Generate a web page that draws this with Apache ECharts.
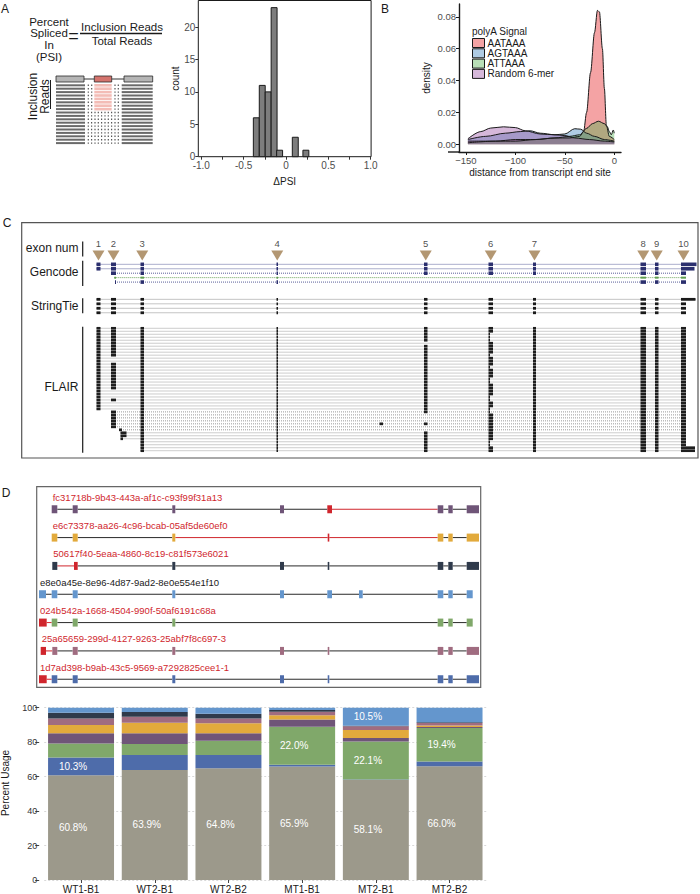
<!DOCTYPE html>
<html>
<head>
<meta charset="utf-8">
<title>Isoform figure</title>
<script src="https://cdn.jsdelivr.net/npm/echarts@6.0.0/dist/echarts.min.js"></script>
<style>
html,body{margin:0;padding:0;background:#ffffff;}
#chart{width:700px;height:894px;}
</style>
</head>
<body>
<div id="chart"></div>
<script>
// ================= DATA =================
// ---- Panel A: PSI schematic (schematic units) ----
const schemExonSpans = [[0, 28], [38.3, 55.7], [68, 96.7]];
const schemExonKinds = ['const', 'cassette', 'const'];
const schemExonRow = -1.85;
const schemReadLeft = [0, 29];
const schemReadRight = [65.7, 96.7];
const schemInclusionRows = 8;
const schemExclusionRows = 10;
const schemInclDots = [32.3, 35.7, 59, 62.3];
const schemExclDots = [32.3, 35.6, 39, 42.3, 45.6, 49, 52.3, 55.6, 59, 62.3];

// ---- Panel A: dPSI histogram ----
const dpsiBinCenters = [-0.35, -0.28, -0.21, -0.14, -0.075, 0.11, 0.235];
const dpsiBinCounts  = [6, 11, 10, 23, 1, 3, 1];
const dpsiBinWidth = 0.07;
const dpsiTickValues  = [-1, -0.75, -0.5, -0.25, 0, 0.25, 0.5, 0.75, 1];
const dpsiLabelValues = [-1, -0.5, 0, 0.5, 1];
const countTicks = [0, 5, 10, 15, 20];

// ---- Panel B: polyA signal density ----
const polyASignals = ['AATAAA', 'AGTAAA', 'ATTAAA', 'Random 6-mer'];
const densX_AATAAA = [-148, -120, -100, -80, -60, -45, -35, -31, -28, -24, -20, -17, -15, -12, -10, -8, -5, 0];
const densY_AATAAA = [0.002, 0.002, 0.003, 0.003, 0.004, 0.004, 0.005, 0.008, 0.02, 0.045, 0.07, 0.084, 0.083, 0.06, 0.035, 0.012, 0.005, 0.003];
const densX_AGTAAA = [-148, -130, -110, -95, -85, -75, -60, -50, -40, -34, -28, -20, -10, 0];
const densY_AGTAAA = [0.003, 0.005, 0.007, 0.008, 0.0085, 0.007, 0.006, 0.0065, 0.0098, 0.0095, 0.007, 0.005, 0.003, 0.002];
const densX_ATTAAA = [-148, -120, -100, -80, -60, -45, -35, -28, -22, -16, -10, -7, -5, -3, -1, 0];
const densY_ATTAAA = [0.001, 0.002, 0.002, 0.003, 0.004, 0.005, 0.006, 0.01, 0.013, 0.0145, 0.013, 0.011, 0.008, 0.006, 0.009, 0.007];
const densX_Random = [-148, -135, -125, -112, -100, -90, -75, -60, -50, -40, -25, -10, 0];
const densY_Random = [0.0035, 0.008, 0.0102, 0.011, 0.0105, 0.0085, 0.0065, 0.006, 0.0055, 0.004, 0.003, 0.002, 0.0015];
const distTicks = [-150, -100, -50, 0];
const densTicks = [0, 0.02, 0.04, 0.06, 0.08];

// ---- Panel C: gene model tracks (kb) ----
const exonNums    = ['1', '2', '3', '4', '5', '6', '7', '8', '9', '10'];
const exonStartKb = [0.65, 2.1, 5.05, 18.65, 33.4, 39.85, 44.3, 55.05, 56.5, 59.1];
const exonEndKb   = [1.05, 2.6, 5.4, 18.8, 33.75, 40.3, 44.6, 55.6, 56.85, 59.6];

const gencodeTx      = [[1,2,3,4,5,6,7,8,9,10], [1,2,3,4,5,6,7,8,9,10], [2,3,4,5,6,7,8,9,10], [2,3,4,8,9,10], [2,3,4,8,9,10]];
const gencodeTxStart = [0.65, 0.65, 2.1, 2.43, 2.5];
const gencodeTxEnd   = [60.65, 60.45, 59.6, 59.6, 59.6];
const gencodeNoncoding = [false, false, false, true, false];

const stringtieTx      = [[1,2,3,4,5,6,7,8,9,10], [1,2,3,4,5,6,7,8,9,10], [1,2,3,4,5,6,7,8,9,10], [1,2,3,4,5,6,7,8,9,10]];
const stringtieTxStart = [0.65, 0.65, 0.65, 0.65];
const stringtieTxEnd   = [60.55, 59.6, 59.6, 59.6];

const flairFirst = '1111111111111111111111111111222222aaaa3333';
const flairAltStart = [2.9, 3.05, 3.05, 3.05];
const flairAltEnd   = [3.2, 3.65, 3.65, 3.3];
const flairSkipE2 = [10, 11, 21, 22, 23, 25, 26, 27];
const flairSkipE5 = [5, 29, 30, 31, 33, 34];
const flairNarrowE6 = [2, 3, 4, 9, 13, 17, 18, 23, 24, 27, 28, 38, 39];
const flairExtraRow = 32;
const flairExtraExon = [28.95, 29.3];
const flairLongEndRows = [40, 41];
const flairLongEndKb = 60.5;

// ---- Panel D: isoform structures (compressed coordinates) ----
const isoNames = [
  'fc31718b-9b43-443a-af1c-c93f99f31a13',
  'e6c73378-aa26-4c96-bcab-05af5de60ef0',
  '50617f40-5eaa-4860-8c19-c81f573e6021',
  'e8e0a45e-8e96-4d87-9ad2-8e0e554e1f10',
  '024b542a-1668-4504-990f-50af6191c68a',
  '25a65659-299d-4127-9263-25abf7f8c697-3',
  '1d7ad398-b9ab-43c5-9569-a7292825cee1-1'
];
const isoIsNovel = [true, true, true, false, true, true, true];
const isoExons = [
  [[14.7,20.3],[35.7,40.7],[135.3,138.3],[243,247],[290.3,295],[400.7,406.3],[411.3,415.7],[429.7,442]],
  [[14.7,20.3],[35.7,40.7],[135.3,138.3],[290.7,292.3],[400.7,406.3],[411.3,415.7],[429.7,442]],
  [[15.3,20.3],[37,40.7],[135.3,138.3],[243,247],[290.7,292.3],[400.7,406.3],[411.3,415.7],[429.7,442]],
  [[2,9],[14.7,20.3],[35.7,40.7],[135.3,138.3],[243,247],[290.3,295],[322,325.7],[400.7,406.3],[411.3,415.7],[429.7,435.7]],
  [[2,9.7],[14.7,20.3],[35.7,40.7],[135.3,138.3],[400.7,406.3],[411.3,415.7],[429.7,435.7]],
  [[3.7,9],[15.3,20.3],[35.7,40.7],[135.3,138.3],[243,247],[290.7,292.3],[400.7,406.3],[411.3,415.7],[429.7,442]],
  [[2,9.7],[14.7,20.3],[35.7,40.7],[135.3,138.3],[243,247],[290.7,292.3],[400.7,406.3],[411.3,415.7],[429.7,442]]
];
const isoNovelExon = [4, 3, 1, -1, 0, 0, 0];
const isoNovelJunctions = [[4], [2, 3], [0], [], [0], [0], [0]];

// ---- Panel D: percent usage ----
const samples = ['WT1-B1', 'WT2-B1', 'WT2-B2', 'MT1-B1', 'MT2-B1', 'MT2-B2'];
const usageOther    = [60.8, 63.9, 64.8, 65.9, 58.1, 66.0];
const usage1d7ad398 = [10.3, 8.6, 7.7, 1.0, 0.2, 2.8];
const usage024b542a = [8.1, 6.5, 8.3, 22.0, 22.1, 19.4];
const usagefc31718b = [6.0, 6.2, 4.4, 4.2, 2.0, 0.6];
const usagee6c73378 = [4.8, 6.1, 5.8, 2.5, 4.6, 0.8];
const usage25a65659 = [3.7, 3.5, 2.8, 2.1, 2.2, 1.5];
const usage50617f40 = [3.4, 2.7, 2.7, 1.0, 0.3, 0.4];
const usagee8e0a45e = [2.9, 2.5, 3.5, 1.3, 10.5, 8.5];

// ================= STYLE =================
const FONT = '"Liberation Sans", Arial, Helvetica, sans-serif';
const RED = '#d0262d';
const isoColors = ['#6f5578', '#e2aa3c', '#2f3a4b', '#6496cd', '#80a86a', '#a06c80', '#4e6caa'];
const otherColor = '#9c998b';
const densFill = ['rgba(228,26,28,0.4)', 'rgba(55,126,184,0.4)', 'rgba(77,175,74,0.4)', 'rgba(152,78,163,0.4)'];

function seg(x1, x2, y, color, w, dash) {
  return {type: 'line', shape: {x1: x1, y1: y, x2: x2, y2: y}, style: {stroke: color, lineWidth: w, lineDash: dash || null}};
}
function box(x1, x2, y, h, fill, stroke) {
  return {type: 'rect', shape: {x: x1, y: y - h / 2, width: Math.max(x2 - x1, 1), height: h},
    style: {fill: fill, stroke: stroke || null, lineWidth: stroke ? 0.8 : 0}};
}
function spanSeries(gridIdx, data, draw) {
  return {
    type: 'custom', xAxisIndex: gridIdx, yAxisIndex: gridIdx, silent: true, clip: false,
    encode: {x: [0, 1], y: 2}, data: data,
    renderItem: function (params, api) {
      const s = api.value(0), e = api.value(1), row = api.value(2), kind = api.value(3);
      const a = api.coord([s, row]), b = api.coord([e, row]);
      return draw(kind, row, a[0], b[0], a[1]);
    }
  };
}

// ================= BUILD DATA ITEMS =================
const schemItems = [];
schemItems.push([schemExonSpans[0][1], schemExonSpans[1][0], schemExonRow, 0]);
schemItems.push([schemExonSpans[1][1], schemExonSpans[2][0], schemExonRow, 0]);
schemExonSpans.forEach((sp, i) => schemItems.push([sp[0], sp[1], schemExonRow, schemExonKinds[i] === 'const' ? 1 : 2]));
for (let r = 0; r < schemInclusionRows + schemExclusionRows; r++) {
  schemItems.push([schemReadLeft[0], schemReadLeft[1], r, 3]);
  schemItems.push([schemReadRight[0], schemReadRight[1], r, 3]);
  if (r < schemInclusionRows) {
    schemItems.push([schemExonSpans[1][0], schemExonSpans[1][1], r, 4]);
    schemInclDots.forEach(d => schemItems.push([d, d, r, 5]));
  } else {
    schemExclDots.forEach(d => schemItems.push([d, d, r, 5]));
  }
}

function txExons(nums, start, end) {
  const ex = nums.map(n => [exonStartKb[n - 1], exonEndKb[n - 1]]);
  ex[0][0] = Math.max(ex[0][0], start);
  ex[ex.length - 1][1] = end;
  return ex;
}
function trackItems(txList) {
  const items = [];
  txList.forEach((ex, row) => {
    items.push([ex[0][0], ex[ex.length - 1][1], row, 0]);
    ex.forEach(p => items.push([p[0], p[1], row, 1]));
  });
  return items;
}
const gencodeItems = trackItems(gencodeTx.map((t, i) => txExons(t, gencodeTxStart[i], gencodeTxEnd[i])));
const stringtieItems = trackItems(stringtieTx.map((t, i) => txExons(t, stringtieTxStart[i], stringtieTxEnd[i])));
const flairTx = [];
let altK = 0;
for (let r = 0; r < flairFirst.length; r++) {
  const f = flairFirst[r];
  const ex = [];
  let startNum;
  if (f === 'a') { ex.push([flairAltStart[altK], flairAltEnd[altK]]); altK++; startNum = 3; }
  else startNum = +f;
  for (let n = startNum; n <= 10; n++) {
    if (n === 2 && flairSkipE2.includes(r)) continue;
    if (n === 5 && flairSkipE5.includes(r)) continue;
    let s = exonStartKb[n - 1], e = exonEndKb[n - 1];
    if (n === 6 && flairNarrowE6.includes(r)) e = s + 0.15;
    if (n === 10 && flairLongEndRows.includes(r)) e = flairLongEndKb;
    ex.push([s, e]);
    if (n === 4 && r === flairExtraRow) ex.push(flairExtraExon.slice());
  }
  flairTx.push(ex);
}
const flairItems = trackItems(flairTx);

const isoItems = [];
isoExons.forEach((ex, row) => {
  for (let j = 0; j < ex.length - 1; j++) {
    isoItems.push([ex[j][1], ex[j + 1][0], row, isoNovelJunctions[row].includes(j) ? 2 : 0]);
  }
  ex.forEach((p, j) => isoItems.push([p[0], p[1], row, j === isoNovelExon[row] ? 3 : 1]));
});
const isoNameItems = isoExons.map((ex, row) => [ex[0][0], row, row]);

// ================= CHART =================
const chart = echarts.init(document.getElementById('chart'), null, {renderer: 'svg'});

const hidden = (min, max, inverse) => ({type: 'value', show: false, min: min, max: max, inverse: !!inverse});
const tickLbl = {fontSize: 9.5, color: '#4d4d4d', fontFamily: FONT};

function T(x, y, text, size, align, rot, extraStyle) {
  return {type: 'text', x: x, y: y, rotation: rot || 0, silent: true,
    style: Object.assign({text: text, fill: '#1a1a1a', fontSize: size, fontFamily: FONT, align: align || 'left', verticalAlign: 'middle'}, extraStyle || {})};
}
function L(x1, y1, x2, y2, w, c) {
  return {type: 'line', silent: true, shape: {x1: x1, y1: y1, x2: x2, y2: y2}, style: {stroke: c || '#1a1a1a', lineWidth: w || 1}};
}

const graphics = [
  T(5, 8.5, 'A', 12, 'center'), T(385, 8.5, 'B', 12, 'center'), T(7, 223, 'C', 12, 'center'), T(6, 493, 'D', 12, 'center'),
  T(49, 39.2, 'Percent\nSpliced\nIn\n(PSI)', 11.5, 'center', 0, {lineHeight: 11.7}),
  T(73.5, 35.5, '=', 18, 'center'),
  T(122, 26.5, 'Inclusion Reads', 11.5, 'center'), L(80, 33.5, 162, 33.5, 1.5), T(122, 41, 'Total Reads', 11.5, 'center'),
  T(39, 96.5, 'Inclusion\nReads', 12, 'center', Math.PI / 2, {lineHeight: 12.5}), L(50.5, 80, 50.5, 109, 1),
  T(472, 31.5, 'polyA Signal', 10, 'left'),
  L(448, 152, 459, 152, 1.4),
  {type: 'rect', silent: true, shape: {x: 21.7, y: 222.7, width: 676.3, height: 235.3}, style: {fill: 'none', stroke: '#555', lineWidth: 1.2}},
  T(78.5, 248.3, 'exon num', 12, 'right'), L(82.7, 241.5, 82.7, 256.5, 1.2),
  T(78.5, 271.7, 'Gencode', 12, 'right'), L(82.7, 260.7, 82.7, 286, 1.2),
  T(78.5, 305.7, 'StringTie', 12, 'right'), L(82.7, 298.3, 82.7, 313.3, 1.2),
  T(78.5, 387.3, 'FLAIR', 12, 'right'), L(82.7, 326.7, 82.7, 452.7, 1.2),
  {type: 'rect', silent: true, shape: {x: 36.7, y: 486.7, width: 444, height: 200.6}, style: {fill: 'none', stroke: '#666', lineWidth: 1.2}},
  T(5, 783, 'Percent Usage', 10, 'center', Math.PI / 2)
];

const option = {
  animation: false,
  backgroundColor: '#ffffff',
  textStyle: {fontFamily: FONT},
  grid: [
    {left: 56, top: 75.1, width: 97, height: 71.4},
    {left: 198.3, top: 0.5, width: 172.8, height: 156.2, show: true, borderColor: '#1a1a1a', borderWidth: 1},
    {left: 459, top: 4, width: 162, height: 148},
    {left: 90, top: 250, width: 608, height: 11},
    {left: 90, top: 262.1, width: 608, height: 22.2},
    {left: 90, top: 297.1, width: 608, height: 17.9},
    {left: 90, top: 326.8, width: 608, height: 125.4},
    {left: 37, top: 495.1, width: 444, height: 198.3},
    {left: 44.2, right: 213.6, top: 707.7, bottom: 13}
  ],
  xAxis: [
    hidden(0, 97),
    {type: 'value', gridIndex: 1, min: -1.035, max: 1.005,
      axisLine: {show: false, onZero: false}, splitLine: {show: false},
      axisTick: {show: true, length: 3, customValues: dpsiTickValues, lineStyle: {color: '#333'}},
      axisLabel: {customValues: dpsiLabelValues, margin: 4, ...tickLbl, fontSize: 10,
        formatter: v => (Math.abs(v) < 1e-9 ? '0' : v.toFixed(1))},
      name: '\u0394PSI', nameLocation: 'middle', nameGap: 20, nameTextStyle: {fontSize: 10, color: '#1a1a1a'}},
    {type: 'value', gridIndex: 2, min: -157, max: 6.8,
      axisLine: {show: true, onZero: false, lineStyle: {color: '#1a1a1a', width: 1.4}}, splitLine: {show: false},
      axisTick: {show: true, length: 3, customValues: distTicks, lineStyle: {color: '#1a1a1a'}},
      axisLabel: {customValues: distTicks, margin: 3, ...tickLbl, formatter: v => (v < 0 ? '\u2212' + Math.abs(v) : String(v))},
      name: 'distance from transcript end site', nameLocation: 'middle', nameGap: 15, nameTextStyle: {fontSize: 10, color: '#1a1a1a'}},
    Object.assign(hidden(0, 60.8), {gridIndex: 3}),
    Object.assign(hidden(0, 60.8), {gridIndex: 4}),
    Object.assign(hidden(0, 60.8), {gridIndex: 5}),
    Object.assign(hidden(0, 60.8), {gridIndex: 6}),
    Object.assign(hidden(0, 444), {gridIndex: 7}),
    {type: 'category', gridIndex: 8, data: samples,
      axisLine: {show: false}, axisTick: {show: true, alignWithLabel: true, length: 3, lineStyle: {color: '#444'}},
      axisLabel: {fontSize: 10, color: '#1a1a1a', margin: 4}}
  ],
  yAxis: [
    hidden(-3, 18, true),
    {type: 'value', gridIndex: 1, min: 0, max: 24.1,
      axisLine: {show: false, onZero: false}, splitLine: {show: false},
      axisTick: {show: true, length: 3, customValues: countTicks, lineStyle: {color: '#333'}},
      axisLabel: {customValues: countTicks, margin: 3, ...tickLbl, fontSize: 10},
      name: 'count', nameLocation: 'middle', nameGap: 17, nameRotate: 90, nameTextStyle: {fontSize: 10, color: '#1a1a1a'}},
    {type: 'value', gridIndex: 2, min: -0.0048, max: 0.088,
      axisLine: {show: true, onZero: false, lineStyle: {color: '#1a1a1a', width: 1.4}}, splitLine: {show: false},
      axisTick: {show: true, length: 3, customValues: densTicks, lineStyle: {color: '#1a1a1a'}},
      axisLabel: {customValues: densTicks, margin: 3, ...tickLbl, formatter: v => v.toFixed(2)},
      name: 'density', nameLocation: 'middle', nameGap: 28, nameRotate: 90, nameTextStyle: {fontSize: 10, color: '#1a1a1a'}},
    Object.assign(hidden(-1, 1), {gridIndex: 3}),
    Object.assign(hidden(-0.5, gencodeTx.length - 0.5, true), {gridIndex: 4}),
    Object.assign(hidden(-0.5, stringtieTx.length - 0.5, true), {gridIndex: 5}),
    Object.assign(hidden(-0.5, flairTx.length - 0.5, true), {gridIndex: 6}),
    Object.assign(hidden(-0.5, isoExons.length - 0.5, true), {gridIndex: 7}),
    {type: 'value', gridIndex: 8, min: 0, max: 100, interval: 20, offset: 5,
      axisLine: {show: false},
      axisTick: {show: true, length: 4, lineStyle: {color: '#444'}},
      axisLabel: {fontSize: 9, color: '#333', margin: 2},
      splitLine: {show: true, lineStyle: {color: '#cfcfcf', width: 0.8, type: [2, 2]}}}
  ],
  legend: {
    left: 472, top: 38, orient: 'vertical', itemWidth: 12, itemHeight: 9, itemGap: 0.3, padding: 0,
    icon: 'rect', selectedMode: false,
    textStyle: {fontSize: 10, color: '#1a1a1a', lineHeight: 9, padding: [0, 0, 0, -2]},
    data: polyASignals.map((n, i) => ({name: n, itemStyle: {color: densFill[i], borderColor: '#1a1a1a', borderWidth: 1}}))
  },
  graphic: graphics,
  series: []
};

option.series.push(spanSeries(0, schemItems, function (kind, row, x1, x2, y) {
  if (kind === 0) return seg(x1, x2, y, '#333', 1);
  if (kind === 1) return box(x1, x2, y, 6, '#b5b5b5', '#2a2a2a');
  if (kind === 2) return box(x1, x2, y, 6, '#d4736d', '#2a2a2a');
  if (kind === 3) return seg(x1, x2, y, '#6a6a6a', 2);
  if (kind === 4) return box(x1, x2, y, 2.6, '#f3bcb6');
  return box(x1 - 0.6, x1 + 0.6, y, 1.4, '#555');
}));

option.series.push({
  type: 'custom', xAxisIndex: 1, yAxisIndex: 1, silent: true,
  data: dpsiBinCenters.map((c, i) => [c, dpsiBinCounts[i]]),
  encode: {x: 0, y: 1},
  renderItem: function (params, api) {
    const c = api.value(0), n = api.value(1);
    const p0 = api.coord([c - dpsiBinWidth / 2, n]), p1 = api.coord([c + dpsiBinWidth / 2, 0]);
    return {type: 'rect', shape: {x: p0[0], y: p0[1], width: p1[0] - p0[0], height: p1[1] - p0[1]},
      style: {fill: '#7d7d7d', stroke: '#1a1a1a', lineWidth: 1}};
  }
});

const densXs = [densX_AATAAA, densX_AGTAAA, densX_ATTAAA, densX_Random];
const densYs = [densY_AATAAA, densY_AGTAAA, densY_ATTAAA, densY_Random];
polyASignals.forEach((name, i) => {
  option.series.push({
    type: 'line', name: name, xAxisIndex: 2, yAxisIndex: 2, silent: true,
    data: densXs[i].map((x, j) => [x, densYs[i][j]]),
    smooth: 0.3, smoothMonotone: 'x', symbol: 'none',
    itemStyle: {color: densFill[i]},
    lineStyle: {color: '#1a1a1a', width: 1},
    areaStyle: {color: densFill[i], opacity: 1, origin: 0}
  });
});

option.series.push({
  type: 'scatter', xAxisIndex: 3, yAxisIndex: 3, silent: true,
  data: exonStartKb.map((s, i) => [(s + exonEndKb[i]) / 2, 0]),
  symbol: 'triangle', symbolRotate: 180, symbolSize: [12, 10],
  itemStyle: {color: '#a07d4f'},
  label: {show: true, position: 'top', distance: 2, fontSize: 9.5, color: '#1a1a1a',
    formatter: p => exonNums[p.dataIndex]}
});

option.series.push(spanSeries(4, gencodeItems, function (kind, row, x1, x2, y) {
  const nc = gencodeNoncoding[row];
  if (kind === 0) return seg(x1, x2, y, nc ? '#6aa35a' : '#5a5f9a', 1, [1, 1]);
  return box(x1, x2, y, nc ? 2 : 3.6, nc ? '#5f9e4f' : '#2b2f6e');
}));
option.series.push(spanSeries(5, stringtieItems, function (kind, row, x1, x2, y) {
  if (kind === 0) return seg(x1, x2, y, '#8a8a8a', 1, [1, 1]);
  return box(x1, x2, y, 2.8, '#1a1a1a');
}));
option.series.push(spanSeries(6, flairItems, function (kind, row, x1, x2, y) {
  if (kind === 0) return seg(x1, x2, y, '#9a9a9a', 1, [1, 1]);
  return box(x1, x2, y, 2.7, '#1e1e1e');
}));

option.series.push(spanSeries(7, isoItems, function (kind, row, x1, x2, y) {
  if (kind === 0) return seg(x1, x2, y, '#2a2a2a', 1);
  if (kind === 2) return seg(x1, x2, y, RED, 1);
  if (kind === 3) return box(x1, x2, y, 8, RED);
  return box(x1, x2, y, 8, isoColors[row]);
}));
option.series.push({
  type: 'custom', xAxisIndex: 7, yAxisIndex: 7, silent: true, clip: false,
  data: isoNameItems, encode: {x: 0, y: 1},
  renderItem: function (params, api) {
    const p = api.coord([api.value(0), api.value(1)]);
    const idx = api.value(2);
    return {type: 'text', x: p[0] + 1, y: p[1] - 12,
      style: {text: isoNames[idx], fill: isoIsNovel[idx] ? RED : '#1a1a1a', fontSize: 9.5, fontFamily: FONT, align: 'left', verticalAlign: 'middle'}};
  }
});

const usageSeries = [
  ['other', usageOther, otherColor],
  [isoNames[6], usage1d7ad398, isoColors[6]],
  [isoNames[4], usage024b542a, isoColors[4]],
  [isoNames[0], usagefc31718b, isoColors[0]],
  [isoNames[1], usagee6c73378, isoColors[1]],
  [isoNames[5], usage25a65659, isoColors[5]],
  [isoNames[2], usage50617f40, isoColors[2]],
  [isoNames[3], usagee8e0a45e, isoColors[3]]
];
usageSeries.forEach(s => {
  option.series.push({
    type: 'bar', name: s[0], xAxisIndex: 8, yAxisIndex: 8, stack: 'usage', silent: true,
    barCategoryGap: '10.5%', data: s[1], itemStyle: {color: s[2]},
    label: {show: true, position: 'inside', offset: [-8, 0], color: '#ffffff', fontSize: 10,
      formatter: p => (p.value >= 10 ? p.value.toFixed(1) + '%' : '')}
  });
});

chart.setOption(option);
</script>
</body>
</html>
